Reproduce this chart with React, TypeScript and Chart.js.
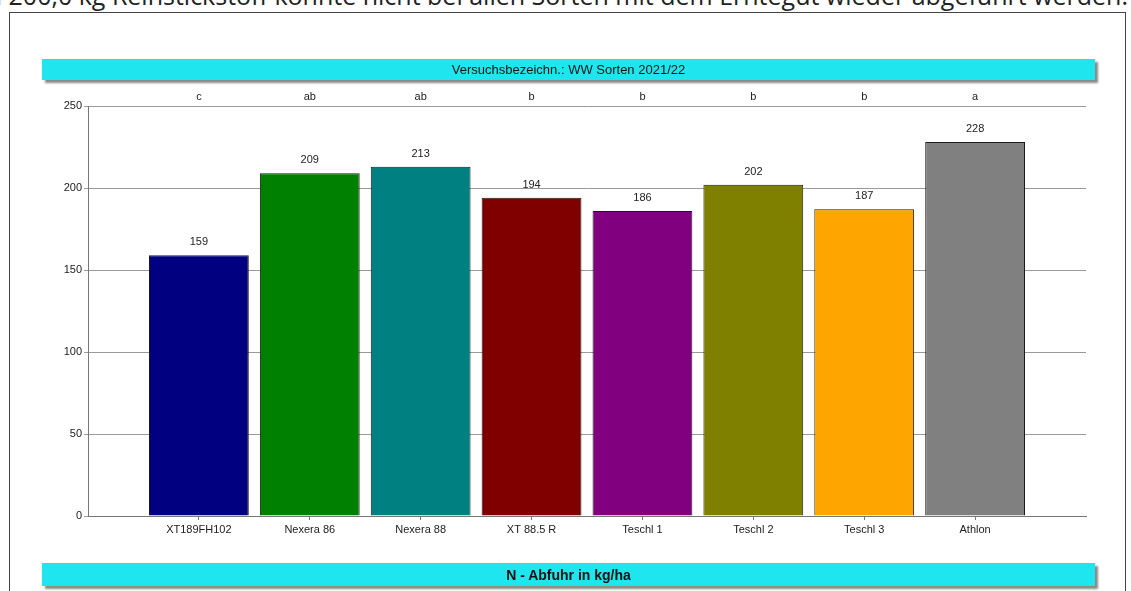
import React, { useEffect, useRef } from "react";
import { Chart, registerables } from "chart.js";

Chart.register(...registerables);

const categories = ["XT189FH102", "Nexera 86", "Nexera 88", "XT 88.5 R", "Teschl 1", "Teschl 2", "Teschl 3", "Athlon"];
const values = [159, 209, 213, 194, 186, 202, 187, 228];
const letters = ["c", "ab", "ab", "b", "b", "b", "b", "a"];
const barColors = ["#000080", "#008000", "#008080", "#800000", "#800080", "#808000", "#FFA500", "#808080"];
const yTicks = [0, 50, 100, 150, 200, 250];
const headerText = "Versuchsbezeichn.: WW Sorten 2021/22";
const footerText = "N - Abfuhr in kg/ha";
const noteText = "Bei 200,0 kg Reinstickstoff konnte nicht bei allen Sorten mit dem Erntegut wieder abgeführt werden.";

const FONT = "'Liberation Sans', Arial, sans-serif";
const CANVAS_W = 1116;
const CANVAS_H = 578;

const labelPlugin = {
  id: "barLabels",
  afterDatasetsDraw(chart: any) {
    const ctx = chart.ctx;
    const meta = chart.getDatasetMeta(0);
    const area = chart.chartArea;
    ctx.save();
    ctx.font = `11px ${FONT}`;
    ctx.fillStyle = "#222";
    ctx.textAlign = "center";
    ctx.textBaseline = "middle";
    meta.data.forEach((el: any, i: number) => {
      ctx.fillText(String(values[i]), el.x, el.y - 13);
      ctx.fillText(letters[i], el.x, area.top - 9);
    });
    ctx.restore();
  },
};

export default function App() {
  const ref = useRef<HTMLCanvasElement | null>(null);

  useEffect(() => {
    document.body.style.margin = "0";
    if (!ref.current) return;
    const chart = new Chart(ref.current, {
      type: "bar",
      data: {
        datasets: [
          {
            data: values.map((v, i) => ({ x: i + 1, y: v })),
            backgroundColor: barColors,
            borderColor: "#1a1a1a",
            borderWidth: 1,
            barPercentage: 0.9,
            categoryPercentage: 1,
          } as any,
        ],
      },
      options: {
        animation: false,
        responsive: false,
        devicePixelRatio: 1,
        layout: { padding: { left: 46, right: 40, top: 93, bottom: 45 } },
        plugins: { legend: { display: false }, tooltip: { enabled: false }, title: { display: false } },
        scales: {
          x: {
            type: "linear",
            offset: false,
            min: 0,
            max: categories.length + 1,
            afterBuildTicks: (axis: any) => {
              axis.ticks = categories.map((_, i) => ({ value: i + 1 }));
            },
            afterFit: (axis: any) => {
              axis.height = 30;
            },
            ticks: {
              autoSkip: false,
              maxRotation: 0,
              padding: 3,
              color: "#222",
              font: { family: FONT, size: 11 },
              callback: (v: any) => categories[Number(v) - 1] ?? "",
            },
            grid: { offset: false, drawOnChartArea: false, drawTicks: true, tickLength: 4, color: "#777" },
            border: { display: true, color: "#777" },
          },
          y: {
            min: 0,
            max: 250,
            afterBuildTicks: (axis: any) => {
              axis.ticks = yTicks.map((v) => ({ value: v }));
            },
            afterFit: (axis: any) => {
              axis.width = 32;
            },
            ticks: {
              padding: 2,
              color: "#222",
              font: { family: FONT, size: 11 },
            },
            grid: { color: "#9a9a9a", tickLength: 4, drawTicks: true },
            border: { display: true, color: "#777" },
          },
        },
      },
      plugins: [labelPlugin],
    } as any);
    return () => chart.destroy();
  }, []);

  const barStyle: React.CSSProperties = {
    position: "absolute",
    left: 42,
    width: 1053,
    background: "#1FE6EE",
    boxShadow: "3px 3px 2px #8a8a8a",
    display: "flex",
    alignItems: "center",
    justifyContent: "center",
    fontFamily: FONT,
    color: "#111",
  };

  return (
    <div style={{ position: "absolute", left: 0, top: 0, width: 1131, height: 591, overflow: "hidden", background: "#fff" }}>
      <div
        style={{
          position: "absolute",
          right: 3,
          top: -17,
          whiteSpace: "nowrap",
          fontFamily: "'Open Sans', sans-serif",
          fontSize: 25,
          lineHeight: "25px",
          color: "#222",
        }}
      >
        {noteText}
      </div>
      <div
        style={{
          position: "absolute",
          left: 9,
          top: 12,
          width: 1117,
          height: 600,
          border: "1px solid #444",
          boxSizing: "border-box",
        }}
      />
      <canvas ref={ref} width={CANVAS_W} height={CANVAS_H} style={{ position: "absolute", left: 10, top: 13 }} />
      <div style={{ ...barStyle, top: 59, height: 21, fontSize: 13 }}>{headerText}</div>
      <div style={{ ...barStyle, top: 563, height: 23, fontSize: 14, fontWeight: "bold" }}>{footerText}</div>
    </div>
  );
}
